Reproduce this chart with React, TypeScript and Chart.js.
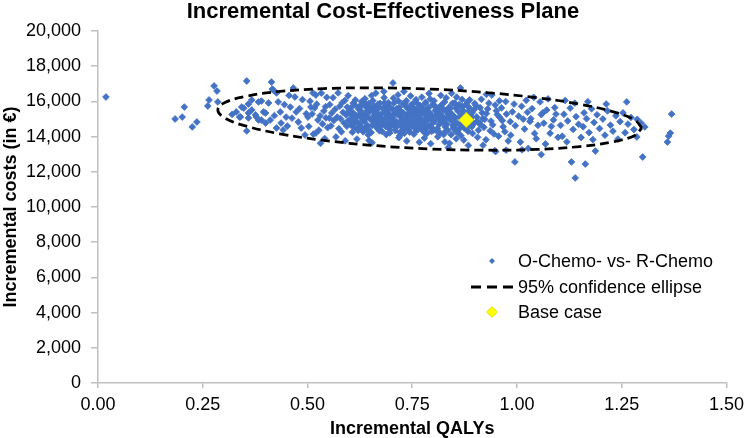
import React, { useEffect, useRef } from 'react';
import { Chart, registerables } from 'chart.js';

Chart.register(...registerables);

const chartTitle = 'Incremental Cost-Effectiveness Plane';
const xAxisTitle = 'Incremental QALYs';
const yAxisTitle = 'Incremental costs (in €)';
const seriesNames = ['O-Chemo- vs- R-Chemo', '95% confidence ellipse', 'Base case'];
const xTickLabels = ['0.00', '0.25', '0.50', '0.75', '1.00', '1.25', '1.50'];
const yTickLabels = ['0', '2,000', '4,000', '6,000', '8,000', '10,000', '12,000', '14,000', '16,000', '18,000', '20,000'];

// Base case (QALYs, costs)
const baseCase: [number, number] = [0.879, 14950];

// 95% confidence ellipse outline (QALYs, costs)
const ellipsePoints: [number, number][] = [
  [1.298, 14489], [1.281, 14946], [1.230, 15407], [1.150, 15841], [1.045, 16216], [0.923, 16510],
  [0.792, 16700], [0.661, 16774], [0.539, 16728], [0.434, 16563], [0.354, 16293], [0.303, 15934],
  [0.286, 15511], [0.303, 15054], [0.354, 14593], [0.434, 14159], [0.539, 13784], [0.661, 13490],
  [0.792, 13300], [0.923, 13226], [1.045, 13272], [1.150, 13437], [1.230, 13707], [1.281, 14066],
  [1.298, 14489],
];

// Simulated pairs (QALYs, costs)
const simLeftTail: [number, number][] = [
  [0.019, 16250], [0.184, 15000], [0.201, 15110], [0.206, 15680], [0.225, 14550], [0.236, 14830],
  [0.262, 15740], [0.265, 16080], [0.277, 16880], [0.284, 16590], [0.286, 15970],
];

const simLeft: [number, number][] = [
  [0.355, 17160], [0.355, 14320], [0.414, 17100], [0.416, 16700], [0.340, 15120], [0.343, 15680],
  [0.359, 15850], [0.367, 15510], [0.390, 16020], [0.378, 15110], [0.400, 15340], [0.411, 14940],
  [0.418, 16650], [0.426, 16480], [0.430, 15970], [0.435, 15400], [0.437, 14770], [0.449, 15110],
  [0.459, 15680], [0.466, 16760], [0.470, 16250], [0.473, 15400], [0.478, 14830], [0.485, 14490],
  [0.494, 14090], [0.426, 14490], [0.442, 14380], [0.400, 14770], [0.383, 14940], [0.367, 16080],
  [0.359, 15340], [0.407, 15910], [0.338, 15110], [0.376, 15230], [0.383, 15970], [0.395, 15400],
  [0.390, 14940], [0.348, 15620], [0.359, 15060], [0.330, 15400], [0.320, 15260], [0.452, 14600],
  [0.463, 15050], [0.481, 15590], [0.488, 16100], [0.497, 15300], [0.445, 15820], [0.421, 15190],
  [0.456, 16340],
];

const simMidLeft: [number, number][] = [
  [0.501, 15110], [0.508, 15680], [0.520, 16360], [0.520, 14200], [0.525, 14940], [0.503, 14580],
  [0.506, 16010], [0.511, 15290], [0.514, 14140], [0.517, 15630], [0.522, 15840], [0.527, 14360],
  [0.530, 15180], [0.533, 16470], [0.536, 14720], [0.539, 15450], [0.541, 13890], [0.544, 15060],
  [0.546, 16230], [0.548, 14510], [0.531, 13620], [0.513, 16480], [0.543, 15700],
  [0.553, 15820], [0.556, 14610], [0.558, 15340], [0.561, 16210], [0.563, 14920], [0.566, 15560],
  [0.568, 13980], [0.571, 15110], [0.573, 16480], [0.575, 14450], [0.577, 15730], [0.579, 15020],
  [0.581, 14270], [0.583, 15930], [0.585, 15380], [0.587, 14780], [0.589, 16050], [0.590, 13760],
  [0.592, 15240], [0.594, 14590], [0.595, 15670], [0.597, 16320], [0.598, 14930], [0.599, 15450],
  [0.552, 15050],
];

const simCoreA: [number, number][] = [
  [0.634, 15210], [0.612, 14780], [0.687, 15460], [0.655, 14930], [0.603, 15620], [0.671, 14410], [0.646, 15880], [0.698, 15070], [0.621, 14350], [0.662, 15340],
  [0.679, 14690], [0.608, 15150], [0.641, 14560], [0.693, 15930], [0.627, 15480], [0.669, 15020], [0.652, 14240], [0.684, 15700], [0.616, 14880], [0.637, 16150],
  [0.695, 14500], [0.659, 15590], [0.604, 14650], [0.675, 15260], [0.631, 14980], [0.648, 15410], [0.688, 14120], [0.613, 15800], [0.666, 14730], [0.642, 15130],
  [0.619, 14460], [0.681, 15550], [0.656, 16040], [0.699, 14870], [0.625, 15290], [0.672, 14330], [0.638, 15720], [0.606, 14990], [0.661, 15170], [0.691, 15380],
  [0.644, 14620], [0.629, 15990], [0.677, 14950], [0.651, 15660], [0.615, 15060], [0.686, 14590], [0.668, 15840], [0.633, 14270], [0.697, 15240], [0.658, 14810],
  [0.622, 15570], [0.674, 15110], [0.640, 14400], [0.609, 15350], [0.683, 16210], [0.664, 14580], [0.649, 15010], [0.690, 14760], [0.626, 15760], [0.657, 15460],
  [0.618, 13860], [0.694, 15570], [0.636, 14850], [0.670, 15680], [0.645, 14100], [0.602, 15290], [0.680, 14920], [0.653, 16330], [0.628, 15120], [0.667, 14460],
  [0.692, 15850], [0.611, 14530], [0.659, 15200], [0.635, 15950], [0.676, 14680], [0.647, 13780], [0.685, 15320], [0.623, 14710], [0.663, 16470], [0.696, 14210],
  [0.639, 15040], [0.614, 16080], [0.673, 15890], [0.654, 13650], [0.689, 15080], [0.630, 14430], [0.665, 15510], [0.607, 14250], [0.682, 16560], [0.643, 15620],
];

const simCoreB: [number, number][] = [
  [0.723, 15130], [0.758, 14720], [0.704, 15540], [0.786, 15080], [0.741, 14390], [0.769, 15760], [0.712, 14860], [0.795, 14550], [0.733, 15920], [0.751, 15250],
  [0.777, 14280], [0.708, 15310], [0.745, 14950], [0.789, 15640], [0.726, 14610], [0.762, 15430], [0.717, 16020], [0.798, 15170], [0.739, 15590], [0.754, 14140],
  [0.781, 14900], [0.702, 14680], [0.748, 15820], [0.771, 15000], [0.729, 14420], [0.793, 16130], [0.714, 15270], [0.765, 14560], [0.736, 15140], [0.784, 15480],
  [0.757, 15990], [0.721, 14770], [0.775, 14390], [0.706, 15900], [0.743, 15360], [0.797, 14730], [0.731, 14190], [0.760, 15210], [0.719, 15650], [0.788, 14980],
  [0.750, 14600], [0.773, 16240], [0.710, 14340], [0.735, 15730], [0.766, 14820], [0.791, 15370], [0.725, 15010], [0.755, 15580], [0.779, 13920], [0.703, 15080],
  [0.746, 16310], [0.768, 15300], [0.732, 14880], [0.785, 14470], [0.715, 15450], [0.761, 14960], [0.799, 15830], [0.738, 14530], [0.774, 15650], [0.720, 14050],
  [0.752, 15160], [0.782, 15950], [0.709, 14800], [0.744, 14250], [0.792, 15110], [0.728, 15860], [0.764, 14410], [0.716, 16370], [0.787, 14640], [0.749, 15500],
  [0.772, 14700], [0.705, 16180], [0.737, 13750], [0.759, 16100], [0.796, 14300], [0.724, 15400], [0.780, 15230], [0.742, 14700], [0.767, 13680], [0.711, 14520],
  [0.790, 16450], [0.753, 14860], [0.730, 16560], [0.776, 15520], [0.718, 13940], [0.763, 15860], [0.740, 15280], [0.794, 13600], [0.727, 14950], [0.704, 17050],
];

const simCoreC: [number, number][] = [
  [0.812, 15030], [0.847, 14640], [0.826, 15520], [0.803, 14870], [0.868, 15260], [0.835, 14350], [0.891, 15090], [0.819, 15780], [0.857, 14780], [0.841, 15370],
  [0.874, 14490], [0.807, 15210], [0.886, 15640], [0.829, 14560], [0.851, 15910], [0.816, 14220], [0.863, 15110], [0.896, 14710], [0.838, 15660], [0.872, 14930],
  [0.805, 15480], [0.845, 14870], [0.883, 14300], [0.823, 15140], [0.859, 15450], [0.832, 14710], [0.878, 15820], [0.810, 14460], [0.893, 15350], [0.849, 15170],
  [0.866, 14060], [0.827, 15970], [0.889, 14930], [0.814, 14690], [0.854, 15630], [0.837, 15260], [0.881, 14620], [0.802, 16030], [0.862, 14430], [0.843, 14110],
  [0.898, 15540], [0.821, 14900], [0.876, 15200], [0.833, 15410], [0.855, 13880], [0.809, 14310], [0.870, 15700], [0.840, 14990], [0.887, 16090], [0.817, 15320],
  [0.865, 14660], [0.831, 16200], [0.852, 15060], [0.894, 14180], [0.825, 14120], [0.879, 14460], [0.846, 15890], [0.806, 15690], [0.873, 13800], [0.839, 13620],
  [0.865, 16760], [0.818, 16340], [0.884, 13500], [0.856, 16240], [0.828, 13700], [0.899, 15880], [0.844, 16460], [0.811, 13990], [0.861, 15770], [0.836, 13380],
  [0.892, 14560], [0.869, 16110], [0.822, 15600], [0.858, 14260], [0.884, 15430],
];

const simCoreD: [number, number][] = [
  [0.664, 15050], [0.702, 14960], [0.741, 15120], [0.789, 15270], [0.823, 14810], [0.868, 15090], [0.617, 15170], [0.655, 14650], [0.728, 15360], [0.774, 14870],
  [0.812, 15600], [0.851, 14520], [0.889, 15230], [0.632, 14900], [0.695, 15710], [0.757, 14480], [0.836, 15290], [0.905, 14880], [0.678, 14300], [0.713, 15580],
  [0.749, 15700], [0.801, 14370], [0.862, 15820], [0.640, 15390], [0.688, 14580], [0.734, 14690], [0.781, 15890], [0.845, 15010], [0.917, 15350], [0.603, 14870],
  [0.658, 15730], [0.721, 14240], [0.767, 15080], [0.829, 14290], [0.876, 14700], [0.645, 14440], [0.707, 15490], [0.754, 15430], [0.796, 14950], [0.858, 15630],
  [0.624, 15640], [0.670, 15260], [0.736, 16040], [0.778, 14620], [0.818, 15180], [0.882, 15970], [0.697, 14390], [0.744, 14870], [0.809, 15410], [0.854, 14300],
  [0.628, 14560], [0.684, 15930], [0.726, 14530], [0.770, 15380], [0.840, 15580], [0.894, 14830], [0.650, 15560], [0.716, 14710], [0.761, 15550], [0.803, 15760],
  [0.848, 14480], [0.912, 14690], [0.609, 15900], [0.673, 14760], [0.739, 15010], [0.785, 14180], [0.832, 15030], [0.871, 15490], [0.692, 15140], [0.758, 14290],
];

const simMidRight: [number, number][] = [
  [0.904, 15120], [0.921, 14530], [0.912, 15640], [0.938, 14880], [0.927, 15310], [0.945, 14150], [0.908, 14360], [0.933, 15900], [0.918, 15020], [0.951, 15470],
  [0.926, 13820], [0.942, 14670], [0.915, 16120], [0.959, 15090], [0.936, 14330], [0.902, 15760], [0.967, 14560], [0.948, 15790], [0.923, 14980], [0.975, 15280],
  [0.930, 15570], [0.956, 14020], [0.911, 14760], [0.984, 14850], [0.940, 16360], [0.963, 15630], [0.919, 13510], [0.989, 15410], [0.971, 14280], [0.947, 13200],
  [0.996, 14620], [0.958, 16030], [0.979, 13750], [0.906, 13960], [0.993, 15850], [0.965, 14910], [0.927, 16400], [0.985, 14080], [0.953, 15250], [0.973, 15990],
  [1.004, 15160], [1.018, 14430], [1.011, 15720], [1.031, 14860], [1.025, 15380], [1.042, 14180], [1.008, 13690], [1.036, 15590], [1.050, 14640], [1.022, 16060],
  [1.058, 15250], [1.046, 13880], [1.064, 14760], [1.033, 15020], [1.071, 15510], [1.015, 14990], [1.079, 14190], [1.055, 15970], [1.087, 14950], [1.068, 13580],
  [1.093, 15280], [1.040, 16230], [1.082, 14580], [1.098, 13960], [1.062, 15360], [1.027, 13330], [1.074, 16140], [1.090, 15650], [0.995, 12560], [1.058, 12980],
  [0.949, 13150], [0.974, 13230], [1.012, 13250],
];

const simRight: [number, number][] = [
  [1.104, 14640], [1.112, 15270], [1.108, 14020], [1.121, 14890], [1.127, 15620], [1.119, 13700], [1.134, 14410], [1.141, 15130], [1.138, 15900], [1.147, 14700],
  [1.153, 13950], [1.160, 15350], [1.158, 14560], [1.166, 15020], [1.172, 14230], [1.178, 15580], [1.184, 14800], [1.181, 13830], [1.191, 15240], [1.197, 14460],
  [1.205, 15000], [1.210, 14080], [1.216, 15460], [1.223, 14650], [1.229, 14310], [1.236, 15180], [1.241, 13860], [1.246, 14850], [1.253, 15350], [1.258, 14220],
  [1.265, 14710], [1.272, 15090], [1.279, 14400], [1.287, 14980], [1.115, 16050], [1.169, 15980],
];

const simRightTail: [number, number][] = [
  [1.213, 15850], [1.262, 15970], [1.369, 15280], [1.366, 14200], [1.362, 14030], [1.359, 13690],
  [1.300, 12840], [1.163, 12440], [1.305, 14550], [1.296, 14770], [1.286, 13980], [1.187, 13180],
  [1.139, 11650], [1.130, 12560],
];

const simPoints: [number, number][] = [
  ...simLeftTail, ...simLeft, ...simMidLeft, ...simCoreA, ...simCoreB, ...simCoreC, ...simCoreD,
  ...simMidRight, ...simRight, ...simRightTail,
];

const FONT = '"Liberation Sans", Arial, Helvetica, sans-serif';
const BLUE = '#4472C4';
const YELLOW = '#FFFF00';
const AXIS_GREY = '#BFBFBF';

const toXY = (p: [number, number]) => ({ x: p[0], y: p[1] });

const diamond = (ctx: CanvasRenderingContext2D, x: number, y: number, r: number) => {
  ctx.beginPath();
  ctx.moveTo(x, y - r);
  ctx.lineTo(x + r, y);
  ctx.lineTo(x, y + r);
  ctx.lineTo(x - r, y);
  ctx.closePath();
};

const overlayPlugin = {
  id: 'overlayTitleLegend',
  afterDraw(chart: any) {
    const ctx: CanvasRenderingContext2D = chart.ctx;
    ctx.save();
    ctx.fillStyle = '#000';
    ctx.font = `bold 22px ${FONT}`;
    ctx.textAlign = 'center';
    ctx.textBaseline = 'alphabetic';
    ctx.fillText(chartTitle, 383, 17.5);

    const textX = 518;
    const rows = [261, 287, 312];
    ctx.font = `18px ${FONT}`;
    ctx.textAlign = 'left';
    ctx.textBaseline = 'middle';

    ctx.fillStyle = BLUE;
    diamond(ctx, 492, rows[0], 3);
    ctx.fill();
    ctx.strokeStyle = '#000';
    ctx.lineWidth = 3;
    ctx.setLineDash([10, 6]);
    ctx.beginPath();
    ctx.moveTo(471, rows[1]);
    ctx.lineTo(514, rows[1]);
    ctx.stroke();
    ctx.setLineDash([]);
    ctx.fillStyle = YELLOW;
    diamond(ctx, 492, rows[2], 5.5);
    ctx.fill();
    ctx.strokeStyle = '#D8D800';
    ctx.lineWidth = 0.8;
    ctx.stroke();

    ctx.fillStyle = '#000';
    ctx.fillText(seriesNames[0], textX, rows[0] + 1);
    ctx.fillText(seriesNames[1], textX, rows[1] + 1);
    ctx.fillText(seriesNames[2], textX, rows[2] + 1);
    ctx.restore();
  },
};

export default function App() {
  const canvasRef = useRef<HTMLCanvasElement | null>(null);

  useEffect(() => {
    if (!canvasRef.current) return;
    Chart.defaults.font.family = FONT;
    const chart = new Chart(canvasRef.current, {
      type: 'scatter',
      data: {
        datasets: [
          {
            label: seriesNames[2],
            data: [toXY(baseCase)],
            pointStyle: 'rectRot',
            pointRadius: 7.5,
            backgroundColor: YELLOW,
            borderColor: '#E0E000',
            borderWidth: 0.8,
          },
          {
            label: seriesNames[1],
            data: ellipsePoints.map(toXY),
            showLine: true,
            borderColor: '#000',
            borderWidth: 2.75,
            borderDash: [9, 5],
            pointRadius: 0,
            tension: 0.4,
            fill: false,
          },
          {
            label: seriesNames[0],
            data: simPoints.map(toXY),
            pointStyle: 'rectRot',
            pointRadius: 3.4,
            backgroundColor: BLUE,
            borderColor: BLUE,
            borderWidth: 0.8,
          },
        ],
      },
      options: {
        animation: false,
        responsive: false,
        devicePixelRatio: 1,
        events: [],
        layout: { padding: { left: 0, right: 18, top: 31, bottom: 0 } },
        plugins: {
          legend: { display: false },
          tooltip: { enabled: false },
          title: { display: false },
        },
        scales: {
          x: {
            type: 'linear',
            min: 0,
            max: 1.5,
            afterFit: (scale: any) => {
              scale.height = 55;
            },
            ticks: {
              stepSize: 0.25,
              color: '#000',
              font: { size: 18 },
              padding: 6,
              maxRotation: 0,
              callback: (_v: any, i: number) => xTickLabels[i] ?? '',
            },
            grid: { drawOnChartArea: false, drawTicks: true, tickLength: 5, color: AXIS_GREY, lineWidth: 1.5 },
            border: { color: AXIS_GREY, width: 1.5 },
            title: {
              display: true,
              text: xAxisTitle,
              color: '#000',
              font: { size: 18, weight: 'bold', lineHeight: 1 },
              padding: { top: 0, bottom: 0 },
            },
          },
          y: {
            type: 'linear',
            min: 0,
            max: 20000,
            afterFit: (scale: any) => {
              scale.width = 98;
            },
            ticks: {
              stepSize: 2000,
              color: '#000',
              font: { size: 18 },
              padding: 10,
              callback: (_v: any, i: number) => yTickLabels[i] ?? '',
            },
            grid: { drawOnChartArea: false, drawTicks: true, tickLength: 7, color: AXIS_GREY, lineWidth: 1.5 },
            border: { color: AXIS_GREY, width: 1.5 },
            title: {
              display: true,
              text: yAxisTitle,
              color: '#000',
              font: { size: 18, weight: 'bold', lineHeight: 1 },
              padding: { top: 2, bottom: 0 },
            },
          },
        },
      },
      plugins: [overlayPlugin],
    } as any);
    return () => chart.destroy();
  }, []);

  return (
    <div style={{ position: 'fixed', left: 0, top: 0, width: 750, height: 438, background: '#fff' }}>
      <canvas ref={canvasRef} width={750} height={438} style={{ width: 750, height: 438, display: 'block' }} />
    </div>
  );
}
